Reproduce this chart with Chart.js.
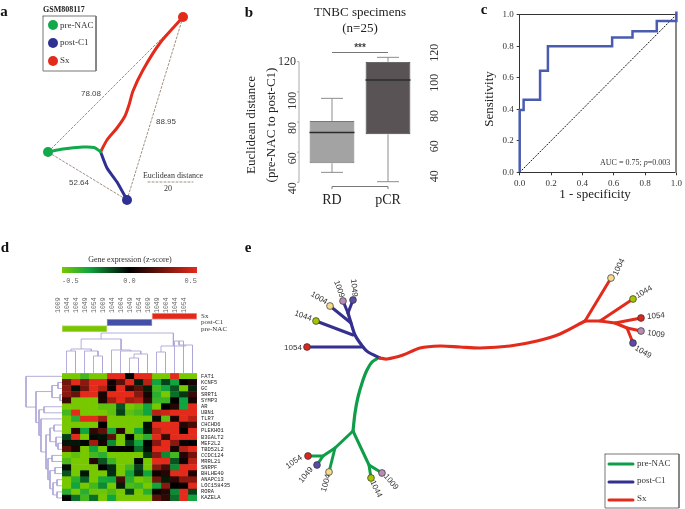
<!DOCTYPE html>
<html>
<head>
<meta charset="utf-8">
<style>
  html, body { margin: 0; background: #fff; }
  #page { position: relative; width: 685px; height: 509px; overflow: hidden; }
  canvas { position: absolute; left: 0; top: 0; }
</style>
<script src="https://cdn.jsdelivr.net/npm/chart.js@4"></script>
</head>
<body>
<div id="page"></div>
<script>
// panel a
const aRed = [[101,151],[107,140],[117,128],[125,116],[129,105],[133,91],[143,70],[160,43],[183,17]];
const aGreen = [[48,152],[63,149],[83,147],[94,147.5],[101,152]];
const aBlue = [[101,153],[107,168],[117,182],[127,200]];
const aTriangle = [[183,17],[48,152],[127,200],[183,17]];
const aScaleBar = [[148,182],[193,182]];

// panel b
const boxLabels = ['RD', 'pCR'];
const boxQ1 = [52.6, 71.8];
const boxMedian = [73.1, 107.8];
const boxQ3 = [80.7, 120];
const boxLow = [46.6, 40.4];
const boxHigh = [95.7, 122.9];

// panel c
const rocFpr = [0, 0, 0.025, 0.025, 0.13, 0.13, 0.18, 0.18, 0.59, 0.59, 0.72, 0.72, 0.875, 0.875, 1, 1];
const rocTpr = [0, 0.395, 0.395, 0.46, 0.46, 0.645, 0.645, 0.8, 0.8, 0.855, 0.855, 0.895, 0.895, 0.96, 0.96, 1.02];

// panel d
const samples = ['1009','1044','1004','1049','1054','1009','1044','1004','1049','1054','1009','1049','1004','1044','1054'];
const genes = ['FAT1','KCNF5','GC','SRRT1','SYMP3','AR','UBN1','TLR7','CHCHD6','PLEKHO1','B3GALT2','MEF2L2','TBD52L2','CCDC124','MRRL21','SNRPF','BHLHE40','ANAPC13','LOC158435','RORA','KAZELA'];
const heat = [
  [-.5,-.5,-.4,-.5,-.5,.5,.5,0,.5,.5,-.5,-.5,.5,-.5,-.5],
  [.25,.5,.3,.5,.5,.03,.2,.5,-.05,.4,-.3,-.12,-.3,0,.05],
  [.3,-.03,.25,.5,.4,.02,.5,.1,.2,-.05,-.4,-.3,-.15,-.5,-.06],
  [.3,.22,.5,.5,.05,.5,.5,.5,.3,.05,-.35,-.5,-.2,-.1,.12],
  [.12,-.5,-.5,-.5,.06,.35,.5,.35,.4,.1,-.38,-.38,0,-.3,.05],
  [-.5,-.5,-.5,-.5,-.45,-.45,-.15,-.5,-.45,-.3,-.5,0,.08,-.3,.5],
  [-.4,.5,-.5,-.5,-.5,-.45,-.12,-.45,-.4,-.3,.4,.45,.5,.5,.5],
  [-.5,-.35,.5,.5,.35,-.5,-.5,-.5,-.5,-.5,-.03,-.45,.05,.5,.4],
  [-.5,-.5,-.5,-.5,0,-.5,-.5,-.5,-.5,-.03,.5,.5,.5,.08,.15],
  [-.5,.08,-.3,.1,.2,-.3,.08,-.5,-.3,-.04,.4,.5,.5,0,.5],
  [-.12,.5,-.5,-.02,-.03,.2,-.5,0,-.45,-.35,.5,.12,.5,.5,.5],
  [-.04,-.04,-.01,.35,.04,-.25,-.5,-.12,-.3,0,.3,.5,.3,.02,0],
  [.2,.06,-.5,-.3,-.5,-.01,.01,.01,-.2,-.02,.5,.5,.05,.4,.5],
  [-.5,-.45,-.5,-.4,-.35,-.5,-.5,-.5,-.5,-.1,.3,-.25,-.4,.08,.25],
  [-.42,-.5,-.5,.08,-.15,-.38,-.5,-.5,-.01,-.5,.5,.5,-.15,.03,.4],
  [-.03,-.5,-.5,-.5,0,-.08,-.5,-.4,-.12,-.5,.3,.15,-.25,.5,.5],
  [-.15,-.5,-.04,-.5,-.5,-.08,-.5,-.3,-.08,-.3,.02,.08,.5,.5,.06],
  [-.5,-.35,-.18,-.5,-.32,-.3,.15,-.35,-.5,-.45,.25,-.05,.1,.3,.3],
  [-.5,-.3,-.5,-.4,-.25,-.5,-.05,-.42,-.38,-.5,-.3,.3,0,.01,.5],
  [-.35,-.5,-.35,-.48,-.48,-.42,-.5,-.12,-.5,-.35,.02,.08,-.25,.5,-.12],
  [-.01,-.2,-.4,-.2,-.5,-.3,-.5,-.5,-.5,-.5,.2,.1,-.2,.5,-.3]
];
const groupLabels = ['Sx', 'post-C1', 'pre-NAC'];
const groupSpans = [[10, 15], [5, 10], [0, 5]];
// dendrograms: [level, child, child], a plain number is a leaf
const colTree = [333,
  [339, [349, [351, 0, 1], [351, 2, [356, 3, 4]]], [350, 5, [351, 6, [354, [358, 7, 8], 9]]]],
  [346, [352, 10, 11], [345, [341, 12, 13], 14]]];
const rowTree = [26, 0, [36, [52, [58, 1, 2], [60, 3, 4]],
  [39, [44, 5, 6], [41, 7, [46, [50, [54, 8, 9], [56, 10, [58, 11, 12]]],
    [48, [52, 13, 14], [50, [55, 15, 16], [53, [57, 17, 18], [57, 19, 20]]]]]]]]];

// panel e
const eRedTrunk = [[380,358],[387,359],[403,355],[420,348],[440,346],[460,347],[480,348],[510,346],[537,341],[560,334],[585,321]];
const eRedBranches = [
  [[585,321],[611,278]], [[585,321],[600,321],[615,323],[627,328],[633,343]],
  [[600,321],[633,299]], [[615,323],[641,318]], [[627,328],[641,331]]
];
const eBlueTrunk = [[380,358],[368,352],[363,347],[355,335],[351,323],[348,313]];
const eBlueBranches = [
  [[363,347],[307,347]], [[353,335],[316,321]], [[351,323],[330,306]],
  [[348,313],[343,301]], [[348,313],[353,300]]
];
const eGreenTrunk = [[378,358],[372,362],[367,370],[363,380],[358,397],[355,413],[353,431]];
const eGreenBranches = [
  [[353,431],[335,448],[323,456],[308,456]], [[323,456],[317,465]], [[335,448],[329,472]],
  [[353,431],[369,465],[371,478]], [[369,465],[382,473]]
];
const eNodes = [
  [611,278,'1004'],[633,299,'1044'],[641,318,'1054'],[641,331,'1009'],[633,343,'1049'],
  [307,347,'1054'],[316,321,'1044'],[330,306,'1004'],[343,301,'1009'],[353,300,'1049'],
  [308,456,'1054'],[317,465,'1049'],[329,472,'1004'],[371,478,'1044'],[382,473,'1009']
];

const W = 685, H = 509;
const GREEN = '#0f9d48', BLUE = '#352f8f', RED = '#e32b1c';
const nodeColors = { 1004: '#f6d98d', 1044: '#a8c400', 1054: '#d9281e', 1009: '#b98cb4', 1049: '#5a4ca6' };
const SERIF = '"Liberation Serif"', SANS = '"Liberation Sans"', MONO = '"Liberation Mono"';

// draws the loose text of a panel, x and y are page pixels
function notesPlugin(list) {
  return {
    id: 'notes',
    afterDraw(chart) {
      const ctx = chart.ctx;
      let endX = 0;
      list.forEach(n => {
        ctx.save();
        ctx.font = n.font;
        ctx.fillStyle = n.color || '#222';
        ctx.textAlign = n.align || 'center';
        ctx.textBaseline = 'middle';
        const x = n.x == null ? endX : n.x;
        ctx.translate(x, n.y);
        if (n.rot) ctx.rotate(n.rot * Math.PI / 180);
        ctx.fillText(n.t, 0, 0);
        endX = x + ctx.measureText(n.t).width;
        ctx.restore();
      });
    }
  };
}

function addChart(config, notes, extra) {
  const canvas = document.createElement('canvas');
  canvas.width = W;
  canvas.height = H;
  document.getElementById('page').appendChild(canvas);
  config.options = config.options || {};
  config.options.responsive = false;
  config.options.animation = false;
  config.options.events = [];
  config.options.devicePixelRatio = 1;
  config.options.plugins = { legend: { display: false }, tooltip: { enabled: false } };
  config.plugins = [notesPlugin(notes || [])].concat(extra || []);
  return new Chart(canvas.getContext('2d'), config);
}

// plot area in page pixels; rooms are the axis boxes that sit around it
// (tick labels get clipped to the axis box so it has to be big enough)
const area = (l, t, r, b, rooms) => {
  const k = Object.assign({ left: 0, top: 0, right: 0, bottom: 0 }, rooms);
  return {
    autoPadding: false,
    padding: { left: l - k.left, top: t - k.top, right: W - r - k.right, bottom: H - b - k.bottom }
  };
};
const room = n => s => { if (s.isHorizontal()) s.height = n; else s.width = n; };
const noGrid = { display: false, drawTicks: false };
const noBorder = { display: false };

const path = (pts, color, width, tension) => ({
  data: pts.map(p => ({ x: p[0], y: p[1] })),
  showLine: true, borderColor: color, borderWidth: width, tension: tension || 0,
  pointRadius: 0, borderCapStyle: 'round', borderJoinStyle: 'round', clip: false
});

// page-sized scatter for the tree drawings
function treeChart(datasets, notes) {
  addChart({
    type: 'scatter',
    data: { datasets },
    options: {
      layout: { autoPadding: false, padding: 0 },
      scales: {
        x: { type: 'linear', min: 0, max: W, display: false },
        y: { type: 'linear', min: 0, max: H, reverse: true, display: false }
      }
    }
  }, notes);
}

const serif = (size, weight) => (weight ? weight + ' ' : '') + size + 'px ' + SERIF;
const letter = (t, x, y) => ({ t, x, y, font: serif(15, 'bold'), color: '#111' });

// ---- a ----
const aPoints = {
  data: [{ x: 183, y: 17 }, { x: 48, y: 152 }, { x: 127, y: 200 }, { x: 53, y: 25 }, { x: 53, y: 43 }, { x: 53, y: 61 }],
  pointRadius: 5, pointBorderWidth: 0, clip: false,
  pointBackgroundColor: [RED, '#12a84c', '#2e3192', '#12a84c', '#2e3192', RED]
};
const aDash = path(aTriangle, '#a08f7e', 1);
aDash.borderDash = [2, 2];
const aBarLine = path(aScaleBar, '#a08f7e', 1);
aBarLine.borderDash = [2, 2];
treeChart([
  aPoints,
  path(aGreen, '#12a84c', 3, 0.25),
  path(aBlue, '#2e3192', 3, 0.2),
  path(aRed, RED, 3, 0.25),
  aDash, aBarLine,
  path([[43,16],[96,16],[96,71],[43,71],[43,16]], '#777', 1)
], [
  letter('a', 4, 12),
  { t: 'GSM808117', x: 43, y: 10, align: 'left', font: serif(8, 'bold') },
  { t: 'pre-NAC', x: 60, y: 26, align: 'left', font: serif(9), color: '#333' },
  { t: 'post-C1', x: 60, y: 43, align: 'left', font: serif(9), color: '#333' },
  { t: 'Sx', x: 60, y: 61, align: 'left', font: serif(9), color: '#333' },
  { t: '78.08', x: 91, y: 94, font: '8px ' + SANS, color: '#444' },
  { t: '88.95', x: 166, y: 122, font: '8px ' + SANS, color: '#444' },
  { t: '52.64', x: 79, y: 183, font: '8px ' + SANS, color: '#444' },
  { t: 'Euclidean distance', x: 173, y: 176, font: serif(8), color: '#333' },
  { t: '20', x: 168, y: 189, font: serif(8), color: '#333' }
]);

// ---- b ----
const boxExtras = {
  id: 'boxExtras',
  afterDatasetsDraw(chart) {
    const { ctx, scales: { x, y } } = chart;
    ctx.save();
    ctx.lineWidth = 1;
    boxLabels.forEach((name, i) => {
      const cx = x.getPixelForValue(i);
      ctx.strokeStyle = '#8c8c8c';
      ctx.beginPath();
      ctx.moveTo(cx, y.getPixelForValue(boxQ3[i]));
      ctx.lineTo(cx, y.getPixelForValue(boxHigh[i]));
      ctx.moveTo(cx - 11, y.getPixelForValue(boxHigh[i]));
      ctx.lineTo(cx + 11, y.getPixelForValue(boxHigh[i]));
      ctx.moveTo(cx, y.getPixelForValue(boxQ1[i]));
      ctx.lineTo(cx, y.getPixelForValue(boxLow[i]));
      ctx.moveTo(cx - 11, y.getPixelForValue(boxLow[i]));
      ctx.lineTo(cx + 11, y.getPixelForValue(boxLow[i]));
      ctx.stroke();
      ctx.strokeStyle = '#2b2b2b';
      ctx.lineWidth = 1.5;
      ctx.beginPath();
      ctx.moveTo(cx - 22.5, y.getPixelForValue(boxMedian[i]));
      ctx.lineTo(cx + 22.5, y.getPixelForValue(boxMedian[i]));
      ctx.stroke();
      ctx.lineWidth = 1;
    });
    // offset left axis, lower bracket and significance bracket
    const ax = x.left - 5;
    ctx.strokeStyle = '#aaa';
    ctx.beginPath();
    ctx.moveTo(ax, y.getPixelForValue(120));
    ctx.lineTo(ax, y.getPixelForValue(40));
    y.ticks.forEach(t => {
      const py = y.getPixelForValue(t.value);
      ctx.moveTo(ax - 2, py);
      ctx.lineTo(ax, py);
    });
    ctx.stroke();
    const c0 = x.getPixelForValue(0), c1 = x.getPixelForValue(1);
    ctx.strokeStyle = '#777';
    ctx.beginPath();
    ctx.moveTo(c0, 189); ctx.lineTo(c0, 186.5); ctx.lineTo(c1, 186.5); ctx.lineTo(c1, 189);
    ctx.moveTo(c0, 52.5); ctx.lineTo(c1, 52.5);
    ctx.stroke();
    ctx.restore();
  }
};
const yTicksB = { min: 40, max: 120, grid: noGrid, border: noBorder, afterFit: room(40) };
addChart({
  type: 'bar',
  data: {
    labels: boxLabels,
    datasets: [{
      data: boxLabels.map((n, i) => [boxQ1[i], boxQ3[i]]),
      backgroundColor: ['#a3a3a3', '#5a5355'],
      borderColor: ['#777', '#444'],
      borderWidth: 1, borderSkipped: false,
      categoryPercentage: 1, barPercentage: 0.8
    }]
  },
  options: {
    layout: area(304, 61.7, 416, 182.3, { left: 40, right: 40, bottom: 30 }),
    scales: {
      x: {
        grid: noGrid, border: noBorder, afterFit: room(30),
        ticks: { color: '#222', font: { family: SERIF, size: 14 }, padding: 10 }
      },
      y: Object.assign({}, yTicksB, {
        ticks: {
          stepSize: 20, minRotation: 90, maxRotation: 90, padding: 11, color: '#333',
          font: { family: SERIF, size: 12 },
          callback: v => (v === 120 ? '' : v)
        }
      }),
      yRight: Object.assign({}, yTicksB, {
        position: 'right',
        ticks: {
          stepSize: 20, minRotation: 90, maxRotation: 90, padding: 19, color: '#333',
          font: { family: SERIF, size: 12 }
        }
      })
    }
  }
}, [
  letter('b', 249, 13),
  { t: 'TNBC specimens', x: 360, y: 13, font: serif(13) },
  { t: '(n=25)', x: 360, y: 29, font: serif(13) },
  { t: '***', x: 360, y: 48, font: 'bold 10px ' + SANS, color: '#444' },
  { t: '120', x: 287, y: 61.7, font: serif(12), color: '#333' },
  { t: 'Euclidean distance', x: 252, y: 125, rot: -90, font: serif(13) },
  { t: '(pre-NAC to post-C1)', x: 272, y: 125, rot: -90, font: serif(13) }
], [boxExtras]);

// ---- c ----
const gridC = { drawOnChartArea: false, tickLength: 3, color: '#333' };
const ticksC = { stepSize: 0.2, color: '#333', padding: 3, font: { family: SERIF, size: 9 }, callback: v => v.toFixed(1) };
const axisC = n => ({ type: 'linear', min: 0, max: 1, afterFit: room(n), grid: gridC, border: { color: '#333' }, ticks: ticksC });
const edgeC = (position, color, width) => ({
  position, min: 0, max: 1, afterFit: room(0),
  grid: { display: false }, ticks: { display: false }, border: { color, width }
});
const rocLine = path(rocFpr.map((v, i) => [v, rocTpr[i]]), '#4a5cb0', 2.5);
rocLine.borderCapStyle = 'butt';
rocLine.borderJoinStyle = 'miter';
const diagLine = path([[0, 0], [1, 1]], '#111', 1);
diagLine.borderDash = [1.2, 2];
addChart({
  type: 'scatter',
  data: { datasets: [rocLine, diagLine] },
  options: {
    layout: area(519.7, 14.7, 679, 172.3, { left: 30, bottom: 20 }),
    scales: {
      x: axisC(20),
      y: axisC(30),
      xTop: edgeC('top', '#333', 1),
      yRight: edgeC('right', '#888', 2)
    }
  }
}, [
  letter('c', 484, 10),
  { t: '1 - specificity', x: 595, y: 195, font: serif(13) },
  { t: 'Sensitivity', x: 490, y: 99, rot: -90, font: serif(13) },
  { t: 'AUC = 0.75; ', x: 600, y: 163, align: 'left', font: serif(8), color: '#333' },
  { t: 'p', y: 163, align: 'left', font: 'italic ' + serif(8), color: '#333' },
  { t: '=0.003', y: 163, align: 'left', font: serif(8), color: '#333' }
]);

// ---- d ----
function heatColor(v) {
  const stops = [[-0.5, [120, 200, 0]], [-0.3, [16, 165, 62]], [0, [0, 0, 0]], [0.5, [228, 42, 26]]];
  let i = 0;
  while (i < stops.length - 2 && v > stops[i + 1][0]) i++;
  const [a, ca] = stops[i], [b, cb] = stops[i + 1];
  const t = (v - a) / (b - a);
  return 'rgb(' + ca.map((c, k) => Math.round(c + (cb[k] - c) * t)).join(',') + ')';
}

// colour key
addChart({
  type: 'bar',
  data: {
    labels: ['z-score'],
    datasets: [{
      data: [[-0.5, 0.5]],
      categoryPercentage: 1, barPercentage: 1, borderWidth: 0,
      backgroundColor: c => {
        const g = c.chart.ctx.createLinearGradient(62, 0, 197, 0);
        [-0.5, -0.3, 0, 0.5].forEach(v => g.addColorStop(v + 0.5, heatColor(v)));
        return g;
      }
    }]
  },
  options: {
    indexAxis: 'y',
    layout: area(62, 267, 197, 273, { bottom: 15 }),
    scales: {
      x: {
        type: 'linear', min: -0.5, max: 0.5, afterFit: room(15),
        grid: noGrid, border: noBorder,
        ticks: { stepSize: 0.5, align: 'inner', padding: 4, color: '#666', font: { family: MONO, size: 7 }, callback: v => v.toFixed(1) }
      },
      y: { display: false }
    }
  }
}, [
  letter('d', 5, 248),
  { t: 'Gene expression (z-score)', x: 130, y: 260, font: serif(8), color: '#333' }
]);

// group strip, sample names sit on its top axis
addChart({
  type: 'bar',
  data: {
    labels: groupLabels,
    datasets: [{
      data: groupSpans,
      backgroundColor: ['#e22a1c', '#444fa8', '#7ac400'],
      borderColor: ['#f2a29a', '#8c92cc', '#b6de6a'],
      borderWidth: 1, borderSkipped: false,
      categoryPercentage: 1, barPercentage: 1
    }]
  },
  options: {
    indexAxis: 'y',
    layout: area(62, 313, 197, 332, { top: 20, right: 60 }),
    scales: {
      x: { type: 'linear', min: 0, max: 15, display: false },
      xSamples: {
        type: 'category', labels: samples, position: 'top', offset: true, afterFit: room(20),
        grid: noGrid, border: noBorder,
        ticks: { autoSkip: false, minRotation: 90, maxRotation: 90, padding: 0, color: '#666', font: { family: MONO, size: 6.5 } }
      },
      y: {
        position: 'right', afterFit: room(60), grid: noGrid, border: noBorder,
        ticks: { autoSkip: false, padding: 4, color: '#333', font: { family: SERIF, size: 7 } }
      }
    }
  }
});

// heat map: one stacked dataset per sample column
addChart({
  type: 'bar',
  data: {
    labels: genes,
    datasets: samples.map((s, col) => {
      const colors = heat.map(row => heatColor(row[col]));
      return {
        label: s, data: genes.map(() => 1),
        backgroundColor: colors, borderColor: colors, borderWidth: 0.4, borderSkipped: false,
        categoryPercentage: 1, barPercentage: 1
      };
    })
  },
  options: {
    indexAxis: 'y',
    layout: area(62, 373.3, 197, 501, { right: 60 }),
    scales: {
      x: { type: 'linear', min: 0, max: 15, stacked: true, display: false },
      y: {
        stacked: true, position: 'right', afterFit: room(60),
        grid: noGrid, border: noBorder,
        ticks: { autoSkip: false, padding: 4, color: '#222', font: { family: MONO, size: 5.4 } }
      }
    }
  }
});

// walks a dendrogram, returns the leaf-axis position of a node
function walkTree(node, leafPos, leafLevel, out, toPoint) {
  if (typeof node === 'number') return leafPos(node);
  const [level, a, b] = node;
  const la = typeof a === 'number' ? leafLevel : a[0];
  const lb = typeof b === 'number' ? leafLevel : b[0];
  const pa = walkTree(a, leafPos, leafLevel, out, toPoint);
  const pb = walkTree(b, leafPos, leafLevel, out, toPoint);
  out.push(toPoint(pa, la), toPoint(pa, level), toPoint(pb, level), toPoint(pb, lb), { x: null, y: null });
  return (pa + pb) / 2;
}
const colSegs = [], rowSegs = [];
walkTree(colTree, i => 62 + 9 * (i + 0.5), 373, colSegs, (p, l) => ({ x: p, y: l }));
walkTree(rowTree, i => 373.3 + 6.08 * (i + 0.5), 62, rowSegs, (p, l) => ({ x: l, y: p }));
const dendro = d => ({ data: d, showLine: true, spanGaps: false, pointRadius: 0, borderColor: '#aaa6d6', borderWidth: 0.9, clip: false });
treeChart([dendro(colSegs), dendro(rowSegs)], []);

// ---- e ----
const eDots = {
  data: eNodes.map(n => ({ x: n[0], y: n[1] })),
  pointRadius: 3.4, pointBorderWidth: 0.7, pointBorderColor: '#333', clip: false,
  pointBackgroundColor: eNodes.map(n => nodeColors[n[2]])
};
treeChart([
  eDots,
  ...eRedBranches.map(b => path(b, RED, 3)),
  ...eBlueBranches.map(b => path(b, BLUE, 3)),
  ...eGreenBranches.map(b => path(b, GREEN, 3)),
  path(eRedTrunk, RED, 3.2, 0.3),
  path(eBlueTrunk, BLUE, 3.2, 0.25),
  path(eGreenTrunk, GREEN, 3.2, 0.25),
  path([[609,464],[633,464]], GREEN, 3),
  path([[609,482],[633,482]], BLUE, 3),
  path([[609,500],[633,500]], RED, 3),
  path([[605,454],[679,454],[679,508],[605,508],[605,454]], '#777', 1)
], [
  letter('e', 248, 248),
  { t: 'pre-NAC', x: 637, y: 464, align: 'left', font: serif(9), color: '#333' },
  { t: 'post-C1', x: 637, y: 481, align: 'left', font: serif(9), color: '#333' },
  { t: 'Sx', x: 637, y: 499, align: 'left', font: serif(9), color: '#333' }
].concat([
  [619,267,'1004',-65],[644,292,'1044',-30],[656,316,'1054',-5],[656,334,'1009',8],[643,352,'1049',30],
  [293,348,'1054',0],[303,316,'1044',20],[319,298,'1004',30],[339,289,'1009',70],[354,288,'1049',85],
  [294,462,'1054',-35],[306,475,'1049',-50],[326,483,'1004',-75],[376,489,'1044',65],[391,482,'1009',50]
].map(l => ({ t: l[2], x: l[0], y: l[1], rot: l[3], font: '8px ' + SANS, color: '#333' }))));
</script>
</body>
</html>
